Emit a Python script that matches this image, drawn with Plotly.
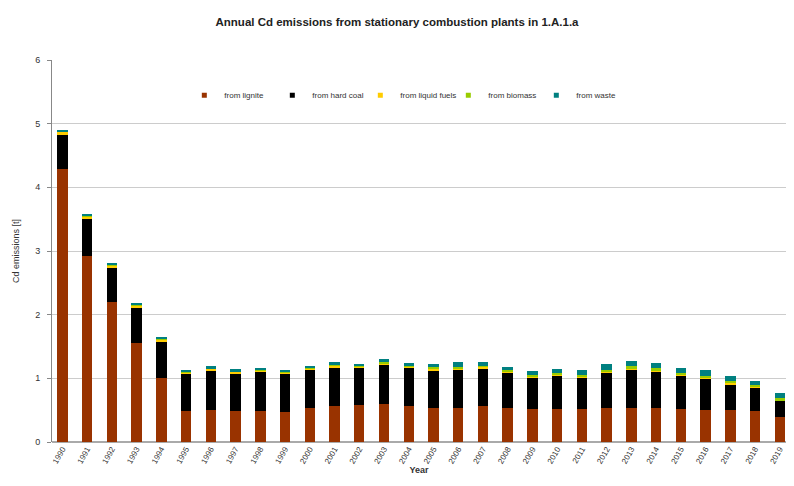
import plotly.graph_objects as go

years = [str(y) for y in range(1990, 2020)]
lignite = [4.29, 2.92, 2.20, 1.55, 1.01, 0.49, 0.51, 0.49, 0.49, 0.47,
           0.53, 0.57, 0.58, 0.59, 0.57, 0.54, 0.54, 0.56, 0.54, 0.52,
           0.52, 0.52, 0.54, 0.54, 0.54, 0.52, 0.51, 0.51, 0.49, 0.39]
hard_coal = [0.53, 0.58, 0.54, 0.56, 0.56, 0.58, 0.62, 0.59, 0.62, 0.60,
             0.61, 0.60, 0.59, 0.62, 0.60, 0.59, 0.60, 0.60, 0.545, 0.49,
             0.52, 0.49, 0.545, 0.60, 0.57, 0.52, 0.49, 0.40, 0.365, 0.255]
liquid_fuels = [0.05, 0.04, 0.04, 0.04, 0.04, 0.02, 0.02, 0.02, 0.02, 0.02,
                0.01, 0.03, 0.01, 0.02, 0.02, 0.02, 0.02, 0.02, 0.02, 0.02,
                0.02, 0.02, 0.02, 0.02, 0.02, 0.02, 0.02, 0.02, 0.02, 0.01]
biomass = [0.01, 0.01, 0.01, 0.01, 0.01, 0.01, 0.01, 0.01, 0.01, 0.01,
           0.01, 0.01, 0.01, 0.02, 0.01, 0.03, 0.02, 0.02, 0.02, 0.02,
           0.02, 0.02, 0.03, 0.03, 0.03, 0.03, 0.02, 0.03, 0.02, 0.03]
waste = [0.02, 0.02, 0.02, 0.02, 0.02, 0.02, 0.03, 0.03, 0.03, 0.03,
         0.04, 0.05, 0.04, 0.05, 0.04, 0.05, 0.07, 0.06, 0.06, 0.06,
         0.07, 0.08, 0.09, 0.08, 0.08, 0.08, 0.09, 0.08, 0.07, 0.08]

series = [
    ("from lignite", lignite, "#993300"),
    ("from hard coal", hard_coal, "#000000"),
    ("from liquid fuels", liquid_fuels, "#FFCC00"),
    ("from biomass", biomass, "#99CC00"),
    ("from waste", waste, "#008080"),
]

fig = go.Figure()
for name, vals, col in series:
    fig.add_trace(go.Bar(x=years, y=vals, name=name, marker_color=col,
                         marker_line_width=0, showlegend=False,
                         legendgroup=name))
# legend entries with small square symbols (no data drawn)
for name, vals, col in series:
    fig.add_trace(go.Scatter(x=[None], y=[None], mode="markers", name=name,
                             marker=dict(symbol="square", size=5, color=col),
                             legendgroup=name, showlegend=True))

font_family = "Liberation Sans, Arial, sans-serif"
fig.update_layout(
    barmode="stack",
    bargap=0.58,
    width=778, height=470,
    margin=dict(l=44, r=0, t=52, b=36),
    paper_bgcolor="white", plot_bgcolor="white",
    font=dict(family=font_family, size=9, color="#333333"),
    title=dict(text="<b>Annual Cd emissions from stationary combustion plants in 1.A.1.a</b>",
               x=0.5, xanchor="center", y=0.970, yanchor="middle",
               font=dict(size=11.5, color="#222222")),
    legend=dict(orientation="h", x=0.48, xanchor="center", y=0.908, yanchor="middle",
                font=dict(size=8, color="#333333"), bgcolor="rgba(0,0,0,0)",
                itemwidth=30, traceorder="normal", entrywidth=43,
                entrywidthmode="pixels"),
    xaxis=dict(type="category", range=[-0.42, 29.25], tickangle=-60,
               tickfont=dict(size=8), showgrid=False, showline=False,
               title=dict(text="<b>Year</b>", font=dict(size=9), standoff=0),
               ticks=""),
    yaxis=dict(range=[0, 6], dtick=1, showgrid=True, gridcolor="#cccccc",
               gridwidth=1, showline=True, linecolor="#888888", linewidth=1,
               ticks="outside", ticklen=4, tickcolor="#888888",
               tickfont=dict(size=9), ticklabelstandoff=5,
               title=dict(text="Cd emissions [t]", font=dict(size=9), standoff=14),
               zeroline=True, zerolinecolor="#aaaaaa"),
)

fig.write_html("out.html")
